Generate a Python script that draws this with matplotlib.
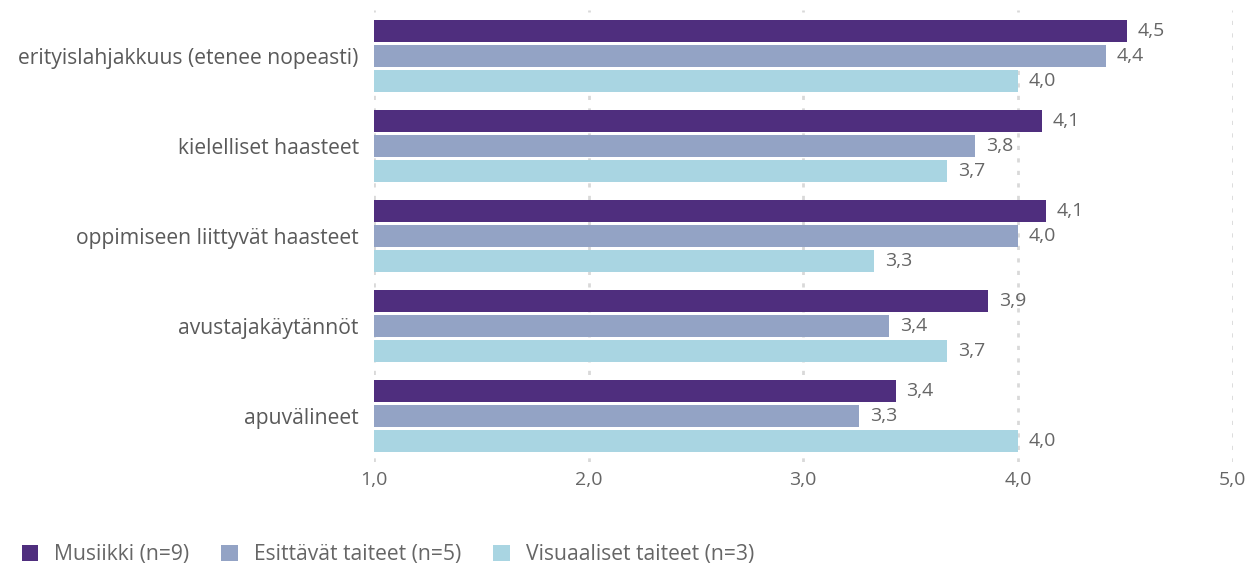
import matplotlib.pyplot as plt
import numpy as np

plt.rcParams['font.family'] = ['Open Sans', 'DejaVu Sans']

# data (means; labels are shown rounded to one decimal)
categories = ['erityislahjakkuus (etenee nopeasti)', 'kielelliset haasteet',
              'oppimiseen liittyvät haasteet', 'avustajakäytännöt', 'apuvälineet']
series = ['Musiikki (n=9)', 'Esittävät taiteet (n=5)', 'Visuaaliset taiteet (n=3)']
musiikki = [4.51, 4.11, 4.13, 3.86, 3.43]
esittavat = [4.41, 3.80, 4.00, 3.40, 3.26]
visuaaliset = [4.00, 3.67, 3.33, 3.67, 4.00]
x_ticks = [1.0, 2.0, 3.0, 4.0, 5.0]

colors = ['#4f2e7e', '#93a3c5', '#a9d5e2']
text_col = '#666666'

fig = plt.figure(figsize=(12.59, 5.65), dpi=100)
ax = fig.add_axes([0.297, 0.182, 0.682, 0.800])

idx = np.arange(len(categories))
h = 0.245
offsets = [-0.278, 0.0, 0.278]
for vals, off, col, name in zip([musiikki, esittavat, visuaaliset], offsets, colors, series):
    ax.barh(idx + off, np.array(vals) - 1.0, height=h, left=1.0, color=col, label=name, zorder=3)
    for y, v in zip(idx + off, vals):
        ax.text(v + 0.05, y, f'{v:.1f}'.replace('.', ','), va='center', ha='left',
                fontsize=14, color=text_col)

ax.set_xlim(1.0, 5.0)
ax.set_ylim(4.51, -0.51)
ax.set_xticks(x_ticks)
ax.set_xticklabels([f'{t:.1f}'.replace('.', ',') for t in x_ticks], fontsize=14, color=text_col)
ax.set_yticks(idx + offsets[1])
ax.set_yticklabels(categories, fontsize=15.2, color='#5a5a5a')
ax.tick_params(axis='both', length=0)
ax.tick_params(axis='x', pad=6)
ax.tick_params(axis='y', pad=11)
ax.grid(axis='x', color='#d9d9d9', linestyle=(0, (1.5, 3)), linewidth=2, zorder=0)
for s in ax.spines.values():
    s.set_visible(False)

fig.legend(loc='lower left', bbox_to_anchor=(0.002, -0.034), ncol=3, frameon=False,
           fontsize=15.2, labelcolor=text_col, handlelength=0.78, handleheight=0.78,
           handletextpad=0.78, columnspacing=1.5)

fig.savefig('out.png', dpi=100)
